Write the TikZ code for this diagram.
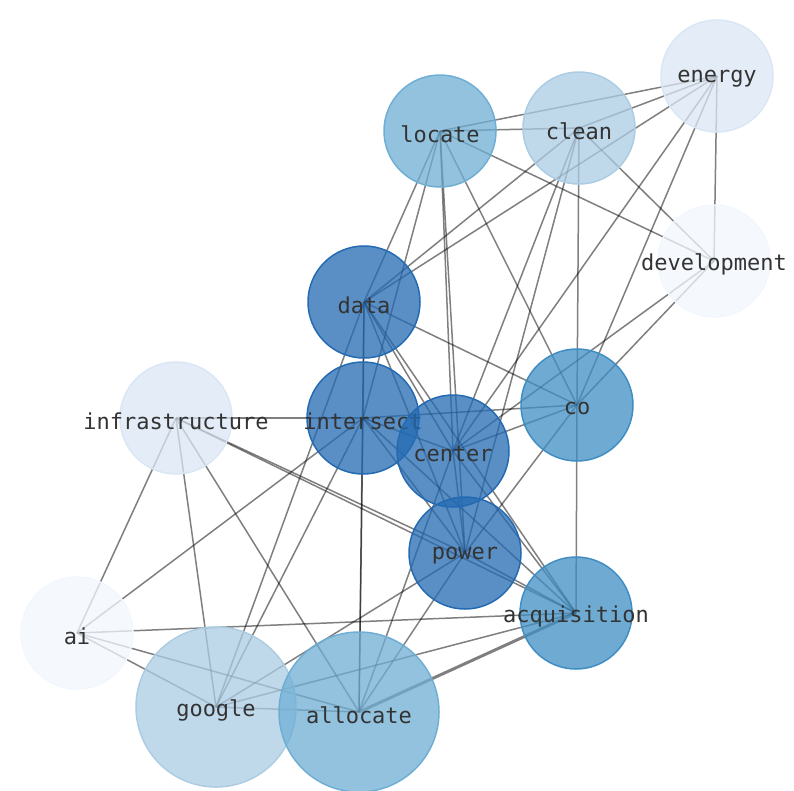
\documentclass[tikz,border=0pt]{standalone}
\usepackage{fontspec}
\usetikzlibrary{backgrounds}
\newfontfamily\wordfont{DejaVu Sans Mono}
\definecolor{blueA}{RGB}{35,106,178}
\definecolor{blueB}{RGB}{63,142,195}
\definecolor{blueC}{RGB}{111,174,212}
\definecolor{blueD}{RGB}{171,204,227}
\definecolor{blueE}{RGB}{218,230,244}
\definecolor{blueF}{RGB}{242,247,254}

\begin{document}
\begin{tikzpicture}[x=1pt,y=-1pt,
    word/.style={circle, minimum size=112pt, inner sep=0pt, line width=1.5pt, fill opacity=0.75},
    big/.style={minimum size=160pt},
    lbl/.style={font=\wordfont\fontsize{22}{26}\selectfont, text=black!80, text opacity=1, inner sep=0pt, yshift=-3pt},
    link/.style={draw=black, opacity=0.5, line width=1.5pt}]
    \useasboundingbox (0,0) rectangle (794,790);

    % words
    \node[word, fill=blueE, draw=blueE, label={[lbl]center:energy}] (energy) at (717,76) {};
    \node[word, fill=blueD, draw=blueD, label={[lbl]center:clean}] (clean) at (579,128) {};
    \node[word, fill=blueC, draw=blueC, label={[lbl]center:locate}] (locate) at (440,131) {};
    \node[word, fill=blueF, draw=blueF, label={[lbl]center:development}] (development) at (714,261) {};
    \node[word, fill=blueA, draw=blueA, label={[lbl]center:data}] (data) at (364,302) {};
    \node[word, fill=blueE, draw=blueE, label={[lbl]center:infrastructure}] (infrastructure) at (176,418) {};
    \node[word, fill=blueA, draw=blueA, label={[lbl]center:intersect}] (intersect) at (363,418) {};
    \node[word, fill=blueB, draw=blueB, label={[lbl]center:co}] (co) at (577,405) {};
    \node[word, fill=blueA, draw=blueA, label={[lbl]center:center}] (center) at (453,451) {};
    \node[word, fill=blueA, draw=blueA, label={[lbl]center:power}] (power) at (465,553) {};
    \node[word, fill=blueB, draw=blueB, label={[lbl]center:acquisition}] (acquisition) at (576,613) {};
    \node[word, fill=blueF, draw=blueF, label={[lbl]center:ai}] (ai) at (77,633) {};
    \node[word, big, fill=blueD, draw=blueD, label={[lbl]center:google}] (google) at (216,707) {};
    \node[word, big, fill=blueC, draw=blueC, label={[lbl]center:allocate}] (allocate) at (359,712) {};

    % links under the words
    \begin{pgfonlayer}{background}
    \foreach \a/\b in {energy/locate, energy/clean, energy/data, energy/center, energy/co, energy/development,
        clean/locate, clean/data, clean/center, clean/power, clean/co, clean/development,
        locate/data, locate/intersect, locate/center, locate/power, locate/co, locate/development,
        development/co, development/center,
        data/intersect, data/co, data/center, data/power, data/acquisition, data/google, data/allocate,
        intersect/infrastructure, intersect/co, intersect/center, intersect/power, intersect/acquisition,
        intersect/google, intersect/allocate, intersect/ai,
        infrastructure/ai, infrastructure/google, infrastructure/allocate, infrastructure/power, infrastructure/acquisition,
        co/center, co/power, co/acquisition,
        center/power, center/acquisition, center/allocate,
        power/acquisition, power/google, power/allocate,
        acquisition/ai, acquisition/google,
        ai/google, ai/allocate, google/allocate}
        \draw[link] (\a.center) -- (\b.center);
    \draw[link, line width=3pt] (acquisition.center) -- (allocate.center);
    \end{pgfonlayer}
\end{tikzpicture}
\end{document}
